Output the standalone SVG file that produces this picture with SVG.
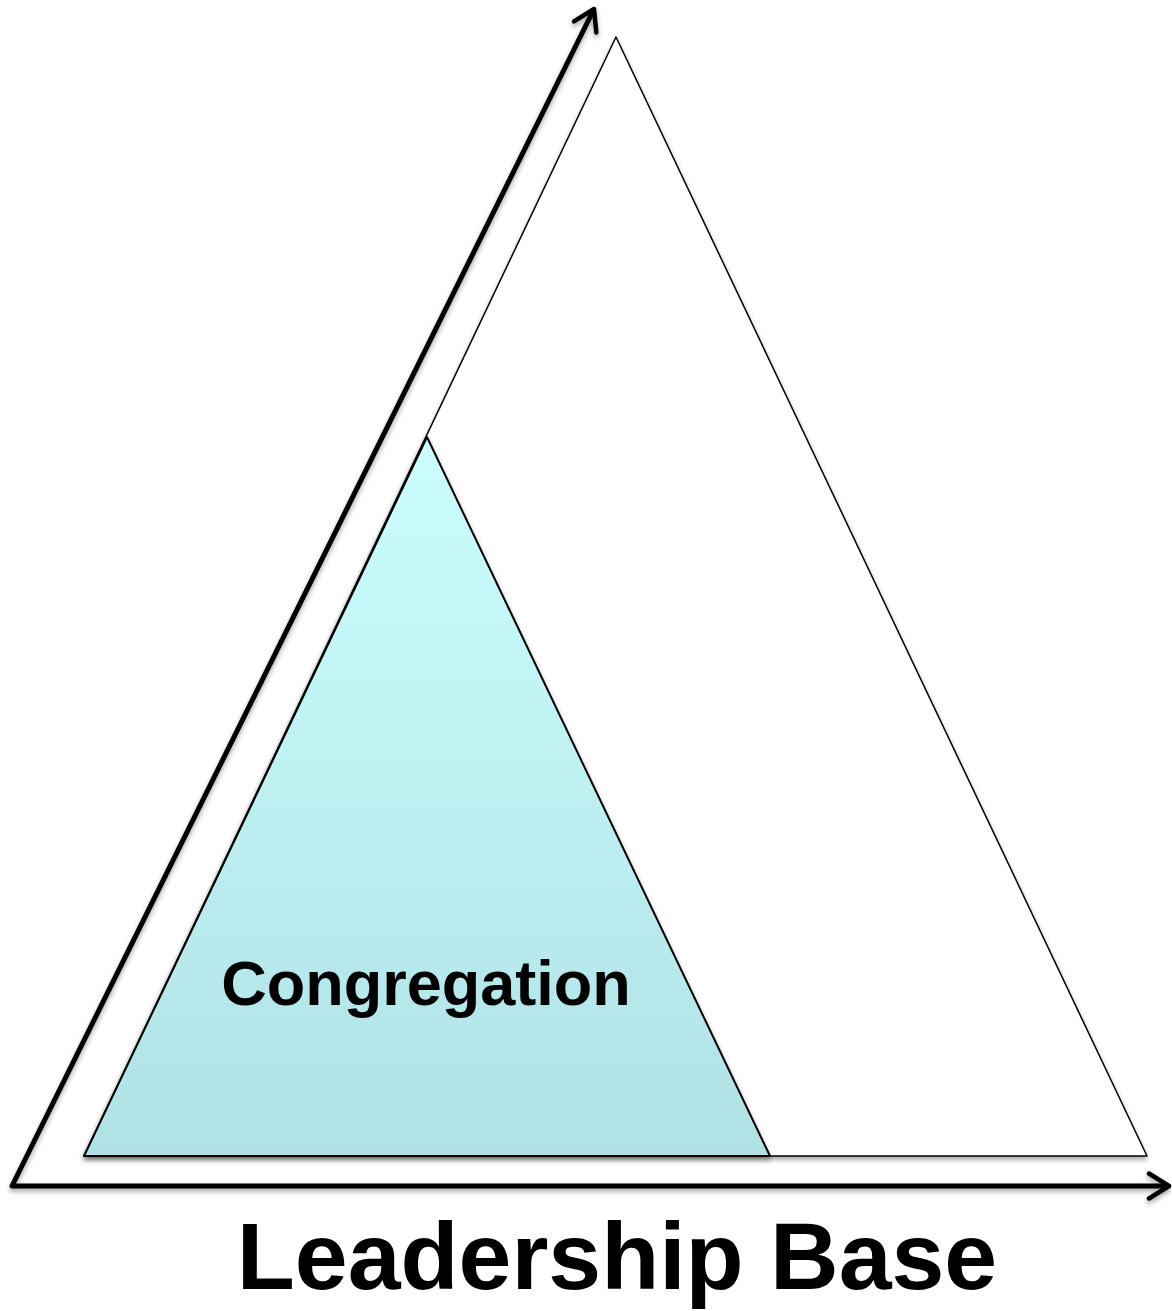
<svg xmlns="http://www.w3.org/2000/svg" width="1172" height="1311" viewBox="0 0 1172 1311">
<defs>
<linearGradient id="cyan" x1="0" y1="0" x2="0" y2="1">
<stop offset="0" stop-color="#ccfdfe"/>
<stop offset="1" stop-color="#b0e1e5"/>
</linearGradient>
<filter id="sh" x="-10%" y="-10%" width="120%" height="120%">
<feDropShadow dx="0" dy="3" stdDeviation="2.5" flood-color="#000" flood-opacity="0.35"/>
</filter>
<marker id="arr" viewBox="0 0 12 12" refX="10" refY="6" markerWidth="6" markerHeight="6" orient="auto-start-reverse" markerUnits="strokeWidth">
<path d="M2,1 L10,6 L2,11" fill="none" stroke="#000" stroke-width="1.8" stroke-linecap="round" stroke-linejoin="round"/>
</marker>
<style>
.lbl{font-family:"Liberation Sans",Arial,sans-serif;font-weight:bold;fill:#000;text-anchor:middle}
</style>
</defs>
<rect width="1172" height="1311" fill="#fff"/>
<g id="outer-triangle" filter="url(#sh)">
<polygon points="616,37 84,1156 1147,1156" fill="#fff" stroke="#000" stroke-width="1.5" stroke-linejoin="round"/>
</g>
<g id="congregation" filter="url(#sh)">
<polygon points="427,437 84,1156 770,1156" fill="url(#cyan)" stroke="#000" stroke-width="2" stroke-linejoin="round"/>
<text class="lbl" x="426" y="1005" font-size="63">Congregation</text>
</g>
<g id="connectors" filter="url(#sh)">
<path d="M594,9 L12,1186 L1169,1186" fill="none" stroke="#000" stroke-width="5" stroke-linejoin="round" marker-start="url(#arr)" marker-end="url(#arr)"/>
</g>
<g id="axis-label">
<text class="lbl" x="617" y="1289" font-size="95">Leadership Base</text>
</g>
</svg>
